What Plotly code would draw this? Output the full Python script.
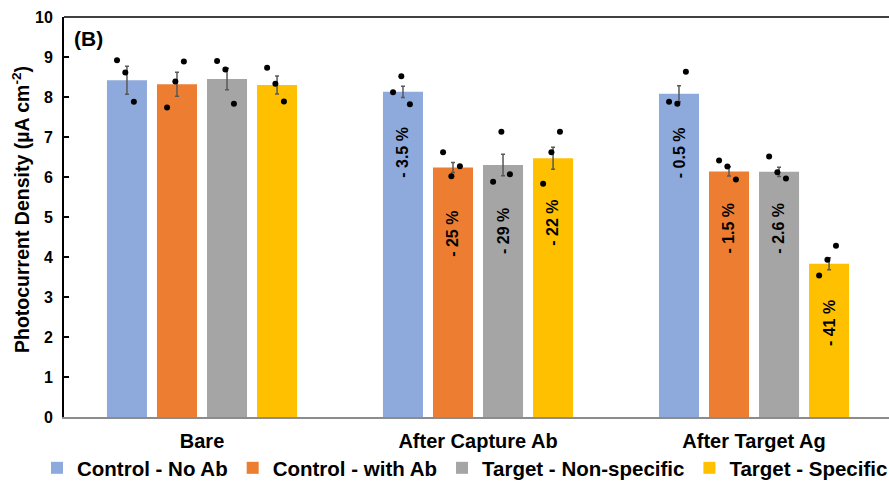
import numpy as np
import plotly.graph_objects as go

categories = ["Bare", "After Capture Ab", "After Target Ag"]
series_names = ["Control - No Ab", "Control - with Ab", "Target - Non-specific", "Target - Specific"]

# mean photocurrent density (µA cm-2) per series, per category
mean_no_ab = [8.42, 8.13, 8.08]
mean_with_ab = [8.32, 6.24, 6.14]
mean_nonspec = [8.45, 6.30, 6.13]
mean_specific = [8.30, 6.47, 3.83]

# error bar half-widths
err_no_ab = [0.35, 0.14, 0.20]
err_with_ab = [0.30, 0.125, 0.115]
err_nonspec = [0.27, 0.27, 0.115]
err_specific = [0.225, 0.275, 0.15]

# individual replicates (3 per bar)
rep_no_ab = [[8.92, 8.61, 7.88], [8.12, 8.52, 7.82], [7.88, 7.83, 8.63]]
rep_with_ab = [[7.74, 8.39, 8.89], [6.62, 6.02, 6.27], [6.41, 6.26, 5.94]]
rep_nonspec = [[8.90, 8.69, 7.83], [5.88, 7.13, 6.07], [6.51, 6.12, 5.96]]
rep_specific = [[8.73, 8.33, 7.89], [5.83, 6.62, 7.13], [3.54, 3.93, 4.28]]

# percentage change labels (None = no label)
pct_no_ab = [None, "- 3.5 %", "- 0.5 %"]
pct_with_ab = [None, "- 25 %", "- 1.5 %"]
pct_nonspec = [None, "- 29 %", "- 2.6 %"]
pct_specific = [None, "- 22 %", "- 41 %"]

colors = ["#8EA9DB", "#ED7D31", "#A5A5A5", "#FFC000"]
label_y = [[None, 6.63, 6.62], [None, 4.58, 4.71], [None, 4.65, 4.71], [None, 4.86, 2.35]]

means = [mean_no_ab, mean_with_ab, mean_nonspec, mean_specific]
errs = [err_no_ab, err_with_ab, err_nonspec, err_specific]
reps = [rep_no_ab, rep_with_ab, rep_nonspec, rep_specific]
pcts = [pct_no_ab, pct_with_ab, pct_nonspec, pct_specific]

FONT = "Liberation Sans, Arial, sans-serif"
W, H = 889, 483
L, T, B = 64, 17, 66
PW, PH = W - L, H - T - B
bargap, bargroupgap = 0.275, 0.2
nser = len(series_names)
slot = (1 - bargap) / nser
jitter = [-0.036, -0.006, 0.025]

xpos = np.arange(len(categories))
fig = go.Figure()
for s in range(nser):
    fig.add_trace(go.Bar(
        x=xpos, y=means[s], name=series_names[s],
        marker=dict(color=colors[s], line=dict(width=0)),
        error_y=dict(type="data", array=errs[s], color="#595959", thickness=1.5, width=2),
    ))

for s in range(nser):
    off = (s - (nser - 1) / 2) * slot
    xs, ys = [], []
    for c in range(len(categories)):
        for r, v in enumerate(reps[s][c]):
            xs.append(xpos[c] + off + jitter[r])
            ys.append(v)
    fig.add_trace(go.Scatter(x=xs, y=ys, mode="markers", showlegend=False,
                             marker=dict(color="black", size=6), hoverinfo="y"))
    for c in range(len(categories)):
        if pcts[s][c]:
            fig.add_annotation(x=xpos[c] + off, y=label_y[s][c], text=pcts[s][c],
                               textangle=-90, showarrow=False,
                               xanchor="center", yanchor="middle",
                               font=dict(family=FONT, size=16, color="black", weight="bold"))

fig.add_annotation(xref="paper", yref="paper", x=(88 - L) / PW, y=(H - B - 38) / PH,
                   text="(B)", showarrow=False, xanchor="center", yanchor="middle",
                   font=dict(family=FONT, size=21, color="black", weight="bold"))
fig.add_annotation(xref="paper", yref="paper", x=(21 - L) / PW, y=(H - B - 210) / PH,
                   text="Photocurrent Density (µA cm<sup>-2</sup>)", textangle=-90, showarrow=False,
                   xanchor="center", yanchor="middle",
                   font=dict(family=FONT, size=19.5, color="black", weight="bold"))
fig.add_shape(type="line", xref="paper", yref="paper", x0=0, x1=1, y0=1, y1=1,
              line=dict(color="black", width=1.5))

fig.update_layout(
    width=W, height=H, margin=dict(l=L, r=0, t=T, b=B, pad=0, autoexpand=False),
    plot_bgcolor="white", paper_bgcolor="white",
    barmode="group", bargap=bargap, bargroupgap=bargroupgap,
    font=dict(family=FONT, color="black"),
    xaxis=dict(range=[-0.5, 2.489], tickvals=list(xpos), ticktext=categories, tickangle=0,
               showline=True, linecolor="#8c8c8c", linewidth=2, ticks="", automargin=False,
               tickfont=dict(family=FONT, size=20, color="black", weight="bold"),
               ticklabelstandoff=5, showgrid=False, zeroline=False),
    yaxis=dict(range=[0, 10], dtick=1, showline=True, linecolor="black", linewidth=2,
               ticks="inside", ticklen=5, tickwidth=1.5, tickcolor="black", automargin=False,
               tickfont=dict(family=FONT, size=16, color="black", weight="bold"),
               ticklabelstandoff=6, showgrid=False, zeroline=False),
    legend=dict(orientation="h", xref="paper", yref="paper", x=(37 - L) / PW, xanchor="left",
                y=(H - B - 468) / PH, yanchor="middle", bgcolor="rgba(0,0,0,0)",
                font=dict(family=FONT, size=20.5, color="black", weight="bold"),
                itemclick=False, tracegroupgap=0),
    showlegend=True,
)

fig.write_html("out.html")
